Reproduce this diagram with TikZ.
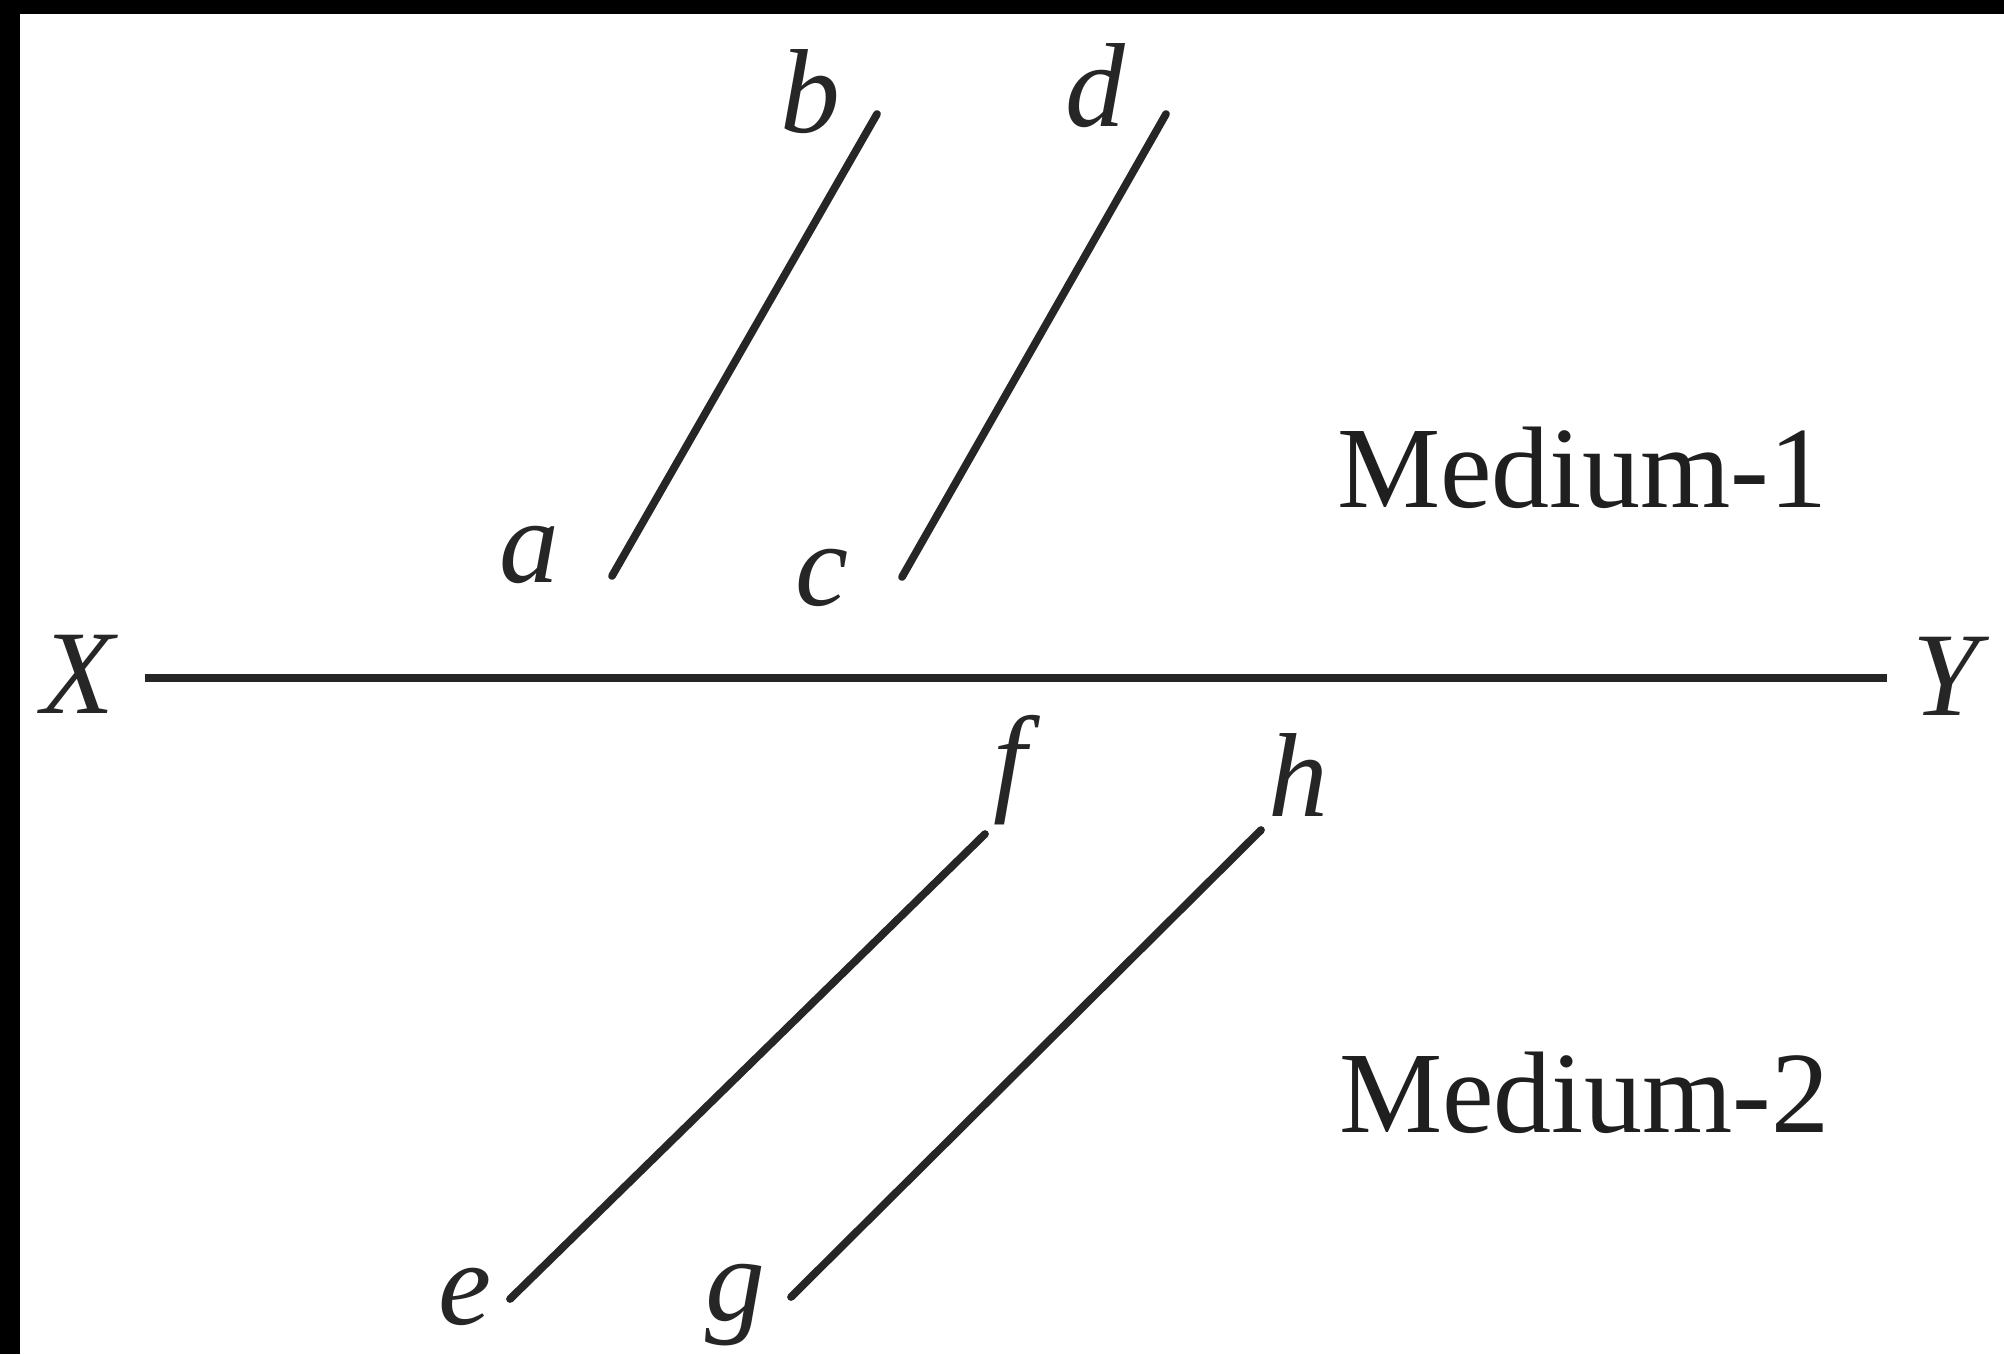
\documentclass[tikz,border=0pt]{standalone}
\usepackage{fontspec}
\setmainfont{Liberation Serif}
\begin{document}
\begin{tikzpicture}[x=0.01cm,y=-0.01cm,
  ray/.style={line width=2.2pt, draw=black!85, line cap=round},
  axisline/.style={line width=2.4pt, draw=black!85},
  lbl/.style={inner sep=0pt, text=black!85, font=\fontsize{34pt}{40pt}\selectfont\itshape},
  med/.style={inner sep=0pt, text=black!88, font=\fontsize{33pt}{40pt}\selectfont}]
\useasboundingbox (0,0) rectangle (2004,1354);
\fill[white] (0,0) rectangle (2004,1354);
\fill[black] (0,0) rectangle (2004,14);
\fill[black] (0,0) rectangle (20,1354);
% axis
\node[lbl] (X) at (78,674) {X};
\node[lbl] (Y) at (1946,676) {Y};
\coordinate (xs) at (145,678);
\coordinate (ys) at (1887,678);
\draw[axisline] (xs) -- (ys);
% medium 1 rays
\coordinate (pa) at (612,576);
\coordinate (pb) at (877,114);
\coordinate (pc) at (902,577);
\coordinate (pd) at (1166,114);
\draw[ray] (pa) -- (pb);
\draw[ray] (pc) -- (pd);
\node[lbl] (a) at (529,555) {a};
\node[lbl] (b) at (810,92) {b};
\node[lbl] (c) at (822,578) {c};
\node[lbl] (d) at (1095,86) {d};
% medium 2 rays
\coordinate (pe) at (510,1299);
\coordinate (pf) at (985,834);
\coordinate (pg) at (791,1297);
\coordinate (ph) at (1261,830);
\draw[ray] (pe) -- (pf);
\draw[ray] (pg) -- (ph);
\node[lbl] (e) at (465,1297) {e};
\node[lbl] (f) at (1010,770) {f};
\node[lbl] (g) at (735,1305) {g};
\node[lbl] (h) at (1298,775) {h};
% media labels
\node[med] (m1) at (1582,468) {Medium-1};
\node[med] (m2) at (1584,1093) {Medium-2};
\end{tikzpicture}
\end{document}
